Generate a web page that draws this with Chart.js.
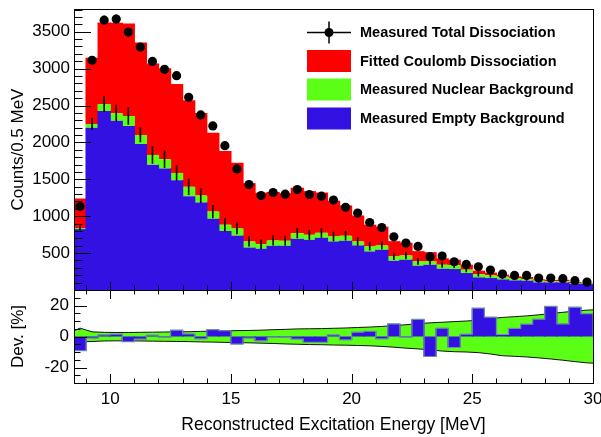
<!DOCTYPE html>
<html><head><meta charset="utf-8">
<script src="https://cdn.jsdelivr.net/npm/chart.js@4.4.0/dist/chart.umd.min.js"></script>
<style>
html,body{margin:0;padding:0;background:#fff;}
#wrap{position:relative;width:601px;height:437px;overflow:hidden;}
canvas{position:absolute;left:0;top:0;}
</style></head><body>
<div id="wrap"><canvas id="topc" width="601" height="437"></canvas><canvas id="botc" width="601" height="437"></canvas></div>
<script>
// ---- data ----
const energy = [8.75,9.25,9.75,10.25,10.75,11.25,11.75,12.25,12.75,13.25,13.75,14.25,14.75,15.25,15.75,16.25,16.75,17.25,17.75,18.25,18.75,19.25,19.75,20.25,20.75,21.25,21.75,22.25,22.75,23.25,23.75,24.25,24.75,25.25,25.75,26.25,26.75,27.25,27.75,28.25,28.75,29.25,29.75];
const emptyBg = [825,2200,2426,2295,2223,1979,1699,1645,1488,1272,1185,965,800,737,575,559,599,599,694,680,708,658,667,604,522,545,396,410,329,342,288,284,230,171,162,144,130,126,103,103,103,85,81];
const nuclearBg = [15,50,94,100,135,122,132,127,99,126,95,98,84,97,83,63,72,68,77,68,67,67,68,54,68,59,59,58,58,45,54,54,45,45,36,36,32,23,23,14,14,10,9];
const coulomb = [400,897,1105,1225,1252,1254,1237,1233,1204,1175,1120,1067,1000,892,790,696,658,643,615,592,546,485,411,352,295,254,207,172,140,126,88,73,68,47,38,28,24,28,19,19,21,12,8];
const bgErr = [30,80,105,115,120,100,120,120,105,110,100,90,88,80,70,65,68,66,70,66,66,64,64,58,56,55,50,50,46,44,42,40,36,32,30,28,26,24,22,20,20,18,16];
const measured = [1131,3112,3657,3671,3495,3292,3098,2990,2904,2611,2372,2223,1956,1641,1429,1280,1321,1299,1361,1294,1272,1218,1120,1042,915,847,721,636,590,451,460,383,346,315,271,216,198,198,162,162,153,126,108];
const measuredErr = [34,56,60,61,59,57,56,55,54,51,49,47,44,41,38,36,36,36,37,36,36,35,33,32,30,29,27,25,24,21,21,20,19,18,16,15,14,14,13,13,12,11,10];
const deviation = [-9.2,-1.1,1.1,1.5,-3.4,-1.7,0.9,-0.6,4.1,1.7,-1.5,4.5,3.7,-4.9,-1.1,-2.8,-0.6,-0.6,-1.7,-3.7,-3.7,1.1,-2.2,2.8,3.4,-1.5,8.2,-0.6,11.0,-12.9,5.4,-7.1,1.5,18.3,12.5,1.3,5.2,8.0,11.2,19.4,8.2,18.9,14.8];
const bandEnergy = [8.5,8.75,9.25,9.75,10.25,10.75,11.25,11.75,12.25,12.75,13.25,13.75,14.25,14.75,15.25,15.75,16.25,16.75,17.25,17.75,18.25,18.75,19.25,19.75,20.25,20.75,21.25,21.75,22.25,22.75,23.25,23.75,24.25,24.75,25.25,25.75,26.25,26.75,27.25,27.75,28.25,28.75,29.25,29.75,30];
const bandUpper = [3.7,5.4,3.0,2.7,2.6,2.6,2.7,2.8,2.9,3.0,3.1,3.3,3.5,3.6,3.8,3.9,4.1,4.4,4.6,4.9,5.0,5.1,5.3,5.5,5.8,6.1,6.5,7.0,7.6,8.3,8.8,9.2,9.6,10.0,10.5,11.5,12.3,12.8,13.3,14.0,14.8,15.6,16.4,17.0,17.2];
const bandLower = [-3.2,-3.5,-3.2,-2.9,-2.8,-2.8,-2.9,-3.0,-3.1,-3.2,-3.3,-3.5,-3.6,-3.8,-3.9,-4.1,-4.3,-4.5,-4.8,-5.0,-5.2,-5.3,-5.5,-5.6,-5.8,-6.0,-6.4,-6.9,-7.5,-8.0,-8.6,-9.4,-9.8,-10.0,-10.4,-11.3,-12.4,-12.8,-13.2,-13.8,-14.5,-15.3,-16.2,-17.0,-17.2];
const xTicks = [10,15,20,25,30];
const countTicks = [500,1000,1500,2000,2500,3000,3500];
const devTicks = [-20,0,20];
const seriesNames = ['Measured Total Dissociation','Fitted Coulomb Dissociation','Measured Nuclear Background','Measured Empty Background'];

// ---- styles ----
const BLUE='#3411e3', GREEN='#5bff16', RED='#ff0000', OUTLINE='#6e8fa3';
const FONT='"Liberation Sans", Arial, Helvetica, sans-serif';
const pts = (xs, ys) => xs.map((x,i)=>({x:x, y:ys[i]}));
const halfBin = (energy[1]-energy[0])/2;

function ticksPlugin(id, o){
  return { id:id, afterDatasetsDraw(chart){
    const {ctx, chartArea:a, scales:{x,y}} = chart;
    const X = v => Math.round(x.getPixelForValue(v))+0.5;
    const Y = v => Math.round(y.getPixelForValue(v))+0.5;
    ctx.save(); ctx.strokeStyle='#000'; ctx.lineWidth=1; ctx.beginPath();
    for (let v=o.yStart; v<=y.max+1e-9; v+=o.yStep){
      const major = o.yMajor.some(m=>Math.abs(m-v)<1e-6);
      const py = Y(v); ctx.moveTo(a.left, py); ctx.lineTo(a.left+(major?o.yMajLen:o.yMinLen), py);
    }
    for (let v=9; v<=30; v+=1){
      const major = xTicks.indexOf(v)>=0; const px = X(v);
      if (o.xBottom){ ctx.moveTo(px, a.bottom); ctx.lineTo(px, a.bottom-(major?o.xMajLen:o.xMinLen)); }
      if (o.xTop){ ctx.moveTo(px, a.top); ctx.lineTo(px, a.top+(major?o.xMajLen:o.xMinLen)); }
    }
    ctx.stroke();
    ctx.strokeRect(Math.round(a.left)+0.5, Math.round(a.top)+0.5, Math.round(a.right)-Math.round(a.left), Math.round(a.bottom)-Math.round(a.top));
    ctx.restore();
  }};
}

const errorBars = { id:'errorBars', afterDatasetsDraw(chart){
  const {ctx, scales:{x,y}} = chart;
  ctx.save(); ctx.strokeStyle='#000'; ctx.lineWidth=1.6; ctx.beginPath();
  energy.forEach((e,i)=>{
    const px = x.getPixelForValue(e); const t = emptyBg[i]+nuclearBg[i];
    ctx.moveTo(px, y.getPixelForValue(t-bgErr[i])); ctx.lineTo(px, y.getPixelForValue(t+bgErr[i]));
    ctx.moveTo(px, y.getPixelForValue(measured[i]-measuredErr[i])); ctx.lineTo(px, y.getPixelForValue(measured[i]+measuredErr[i]));
  });
  ctx.stroke(); ctx.restore();
}};

const legendBox = { id:'legendBox', afterDraw(chart){
  const ctx = chart.ctx;
  const rows = [32.5, 61, 89.5, 118.5];
  const fills = [null, RED, GREEN, BLUE];
  ctx.save();
  ctx.font = 'bold 14.5px '+FONT; ctx.fillStyle='#000'; ctx.textBaseline='middle'; ctx.textAlign='left';
  rows.forEach((cy,i)=>{
    if (fills[i]) { ctx.fillStyle=fills[i]; ctx.fillRect(307, cy-11, 44, 22); }
    else {
      ctx.strokeStyle='#000'; ctx.lineWidth=1.5; ctx.beginPath();
      ctx.moveTo(307, cy); ctx.lineTo(351, cy); ctx.moveTo(329, cy-11); ctx.lineTo(329, cy+11); ctx.stroke();
      ctx.fillStyle='#000'; ctx.beginPath(); ctx.arc(329, cy, 4.5, 0, Math.PI*2); ctx.fill();
    }
    ctx.fillStyle='#000'; ctx.fillText(seriesNames[i], 360, cy+0.5);
  });
  ctx.restore();
}};

const tickFont = {family:FONT, size:17};
const commonScale = { grid:{display:false, drawTicks:false}, border:{display:false} };
const barStyle = {barPercentage:1.1, categoryPercentage:1, borderWidth:0, stack:'fit'};

new Chart(document.getElementById('topc'), {
  type:'bar',
  data:{ datasets:[
    Object.assign({label:seriesNames[3], data:pts(energy, emptyBg), backgroundColor:BLUE, order:1}, barStyle),
    Object.assign({label:seriesNames[2], data:pts(energy, nuclearBg), backgroundColor:GREEN, order:2}, barStyle),
    Object.assign({label:seriesNames[1], data:pts(energy, coulomb), backgroundColor:RED, order:3}, barStyle),
    {type:'line', label:seriesNames[0], data:pts(energy, measured), showLine:false, pointRadius:4.6, pointBackgroundColor:'#000', pointBorderWidth:0, stack:'meas', order:0}
  ]},
  options:{
    responsive:false, animation:false, devicePixelRatio:1,
    layout:{padding:{left:0, right:8, top:9, bottom:147}},
    plugins:{legend:{display:false}, tooltip:{enabled:false}},
    scales:{
      x:Object.assign({}, commonScale, {type:'linear', min:8.5, max:30, offset:false, stacked:true, ticks:{display:false}, afterFit:s=>{s.height=0; s.paddingLeft=0; s.paddingRight=0;}}),
      y:Object.assign({}, commonScale, {type:'linear', min:0, max:3808, stacked:true,
        ticks:{font:tickFont, color:'#000', padding:4, autoSkip:false, callback:v=>String(v)},
        afterBuildTicks:s=>{s.ticks = countTicks.map(v=>({value:v}));},
        afterFit:s=>{s.width=74; s.paddingTop=0; s.paddingBottom=0;},
        title:{display:true, text:'Counts/0.5 MeV', color:'#000', font:{family:FONT, size:17}, padding:{top:8, bottom:0}}})
    }
  },
  plugins:[ticksPlugin('tk1',{yStart:100, yStep:100, yMajor:countTicks, yMajLen:17, yMinLen:8.5, xBottom:true, xTop:false, xMajLen:8, xMinLen:4.5}), errorBars, legendBox]
});

const outline = [{x:energy[0]-halfBin, y:0}].concat(energy.map((e,i)=>({x:e+halfBin, y:deviation[i]})), [{x:energy[energy.length-1]+halfBin, y:0}]);

new Chart(document.getElementById('botc'), {
  type:'bar',
  data:{ datasets:[
    {type:'line', label:'band upper', data:pts(bandEnergy, bandUpper), borderColor:'#111', borderWidth:1, pointRadius:0, fill:'+1', backgroundColor:GREEN, order:3, tension:0},
    {type:'line', label:'band lower', data:pts(bandEnergy, bandLower), borderColor:'#111', borderWidth:1, pointRadius:0, fill:false, order:2, tension:0},
    {label:'Deviation', data:pts(energy, deviation), backgroundColor:BLUE, borderWidth:0, barPercentage:1.1, categoryPercentage:1, order:1},
    {type:'line', label:'Deviation outline', data:outline, stepped:'after', borderColor:OUTLINE, borderWidth:1.2, pointRadius:0, fill:false, order:0}
  ]},
  options:{
    responsive:false, animation:false, devicePixelRatio:1,
    layout:{padding:{left:0, right:8, top:290, bottom:0}},
    plugins:{legend:{display:false}, tooltip:{enabled:false}},
    scales:{
      x:Object.assign({}, commonScale, {type:'linear', min:8.5, max:30, offset:false,
        ticks:{font:tickFont, color:'#000', padding:6, autoSkip:false, maxRotation:0, callback:v=>String(v)},
        afterBuildTicks:s=>{s.ticks = xTicks.map(v=>({value:v}));},
        afterFit:s=>{s.height=54; s.paddingLeft=0; s.paddingRight=0;},
        title:{display:true, text:'Reconstructed Excitation Energy [MeV]', color:'#000', font:{family:FONT, size:17.5}, padding:{top:0, bottom:1.5}}}),
      y:Object.assign({}, commonScale, {type:'linear', min:-30, max:30,
        ticks:{font:tickFont, color:'#000', padding:5, autoSkip:false, callback:v=>String(v)},
        afterBuildTicks:s=>{s.ticks = devTicks.map(v=>({value:v}));},
        afterFit:s=>{s.width=74; s.paddingTop=0; s.paddingBottom=0;},
        title:{display:true, text:'Dev. [%]', color:'#000', font:{family:FONT, size:17}, padding:{top:8, bottom:0}}})
    }
  },
  plugins:[ticksPlugin('tk2',{yStart:-30, yStep:5, yMajor:devTicks, yMajLen:13, yMinLen:6.5, xBottom:true, xTop:true, xMajLen:9, xMinLen:4.5})]
});
</script>
</body></html>
